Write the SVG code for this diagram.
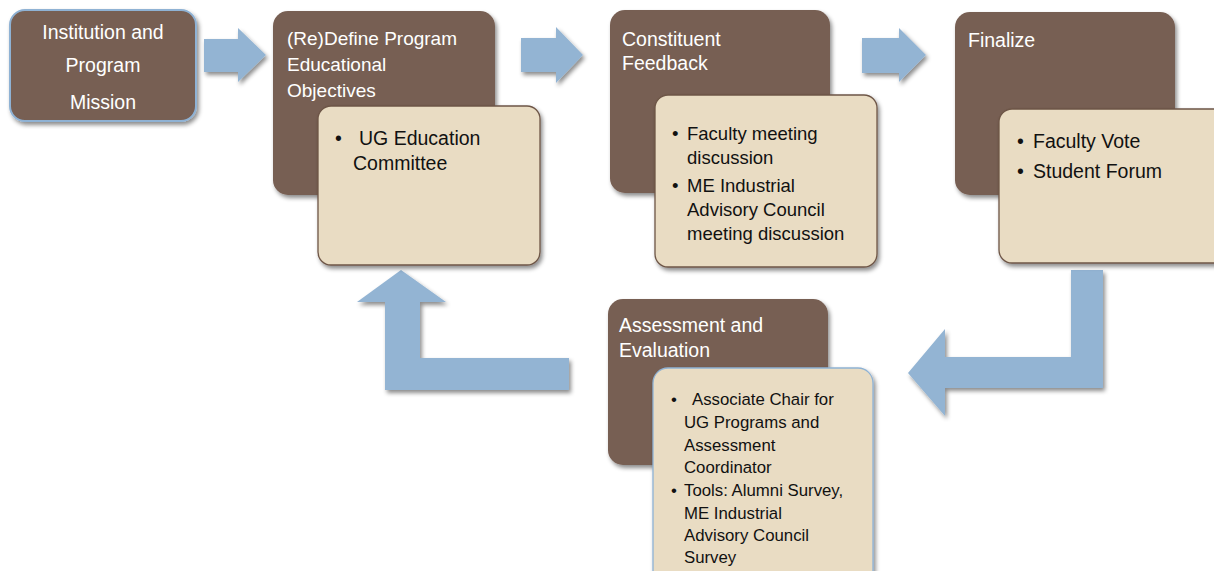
<svg xmlns="http://www.w3.org/2000/svg" width="1214" height="571" viewBox="0 0 1214 571">
<defs>
<filter id="sh" x="-10%" y="-10%" width="130%" height="130%">
<feDropShadow dx="2" dy="3" stdDeviation="2" flood-color="#000" flood-opacity="0.45"/>
</filter>
<style>
.brown{fill:#775E52;filter:url(#sh)}
.tan{fill:#E9DCC3;stroke:#6E5647;stroke-width:1.3;filter:url(#sh)}
.tanb{fill:#E9DCC3;stroke:#8FB2D4;stroke-width:1.3;filter:url(#sh)}
.arr{fill:#93B4D3;filter:url(#sh)}
.t{font-family:"Liberation Sans",Arial,sans-serif;fill:#FFFFFF;font-size:19.5px}
.b{font-family:"Liberation Sans",Arial,sans-serif;fill:#111111}
</style>
</defs>
<rect width="1214" height="571" fill="#FFFFFF"/>
<g id="connectors">
<polygon class="arr" points="204,39 238,39 238,28 266,55 238,82 238,72 204,72"/>
<polygon class="arr" points="521,38 556,38 556,27 583,55 556,83 556,72 521,72"/>
<polygon class="arr" points="862,38 899,38 899,28 926,55 899,82 899,73 862,73"/>
<polygon class="arr" points="1071,270 1103,270 1103,388 945,388 945,416 908,373 945,329 945,357 1071,357"/>
<polygon class="arr" points="401,270 446,302 420,302 420,358 569,358 569,390 385,390 385,302 357,302"/>
</g>
<g id="mission">
<rect x="10" y="10" width="186" height="111" rx="15" class="brown" style="stroke:#8FB2D4;stroke-width:2"/>
<text class="t" text-anchor="middle" style="font-size:19.5px"><tspan x="103" y="39">Institution and</tspan><tspan x="103" y="72">Program</tspan><tspan x="103" y="109">Mission</tspan></text>
</g>
<g id="define">
<rect x="273" y="11" width="222" height="184" rx="15" class="brown"/>
<text class="t" style="font-size:19px"><tspan x="287" y="45">(Re)Define Program</tspan><tspan x="287" y="71">Educational</tspan><tspan x="287" y="97">Objectives</tspan></text>
<rect x="318" y="106" width="222" height="159" rx="13" class="tan"/>
<text class="b" style="font-size:19.5px"><tspan x="335" y="145">•</tspan><tspan x="359" y="145">UG Education</tspan><tspan x="353" y="170">Committee</tspan></text>
</g>
<g id="feedback">
<rect x="610" y="10" width="220" height="183" rx="15" class="brown"/>
<text class="t"><tspan x="622" y="46">Constituent</tspan><tspan x="622" y="70">Feedback</tspan></text>
<rect x="655" y="95" width="222" height="172" rx="13" class="tan"/>
<text class="b" style="font-size:18.5px"><tspan x="672" y="140">•</tspan><tspan x="687" y="140">Faculty meeting</tspan><tspan x="687" y="164">discussion</tspan><tspan x="672" y="192">•</tspan><tspan x="687" y="192">ME Industrial</tspan><tspan x="687" y="216">Advisory Council</tspan><tspan x="687" y="240">meeting discussion</tspan></text>
</g>
<g id="finalize">
<rect x="955" y="12" width="220" height="183" rx="15" class="brown"/>
<text class="t" x="968" y="47">Finalize</text>
<rect x="999" y="109" width="230" height="154" rx="13" class="tan"/>
<text class="b" style="font-size:19.5px"><tspan x="1017" y="148">•</tspan><tspan x="1033" y="148">Faculty Vote</tspan><tspan x="1017" y="178">•</tspan><tspan x="1033" y="178">Student Forum</tspan></text>
</g>
<g id="assessment">
<rect x="608" y="299" width="220" height="166" rx="15" class="brown"/>
<text class="t"><tspan x="619" y="332">Assessment and</tspan><tspan x="619" y="357">Evaluation</tspan></text>
<rect x="653" y="368" width="220" height="230" rx="15" class="tanb"/>
<text class="b" style="font-size:16.8px"><tspan x="671" y="405">•</tspan><tspan x="692" y="405">Associate Chair for</tspan><tspan x="684" y="428">UG Programs and</tspan><tspan x="684" y="451">Assessment</tspan><tspan x="684" y="473">Coordinator</tspan><tspan x="671" y="496">•</tspan><tspan x="684" y="496">Tools: Alumni Survey,</tspan><tspan x="684" y="519">ME Industrial</tspan><tspan x="684" y="541">Advisory Council</tspan><tspan x="684" y="563">Survey</tspan></text>
</g>
</svg>
